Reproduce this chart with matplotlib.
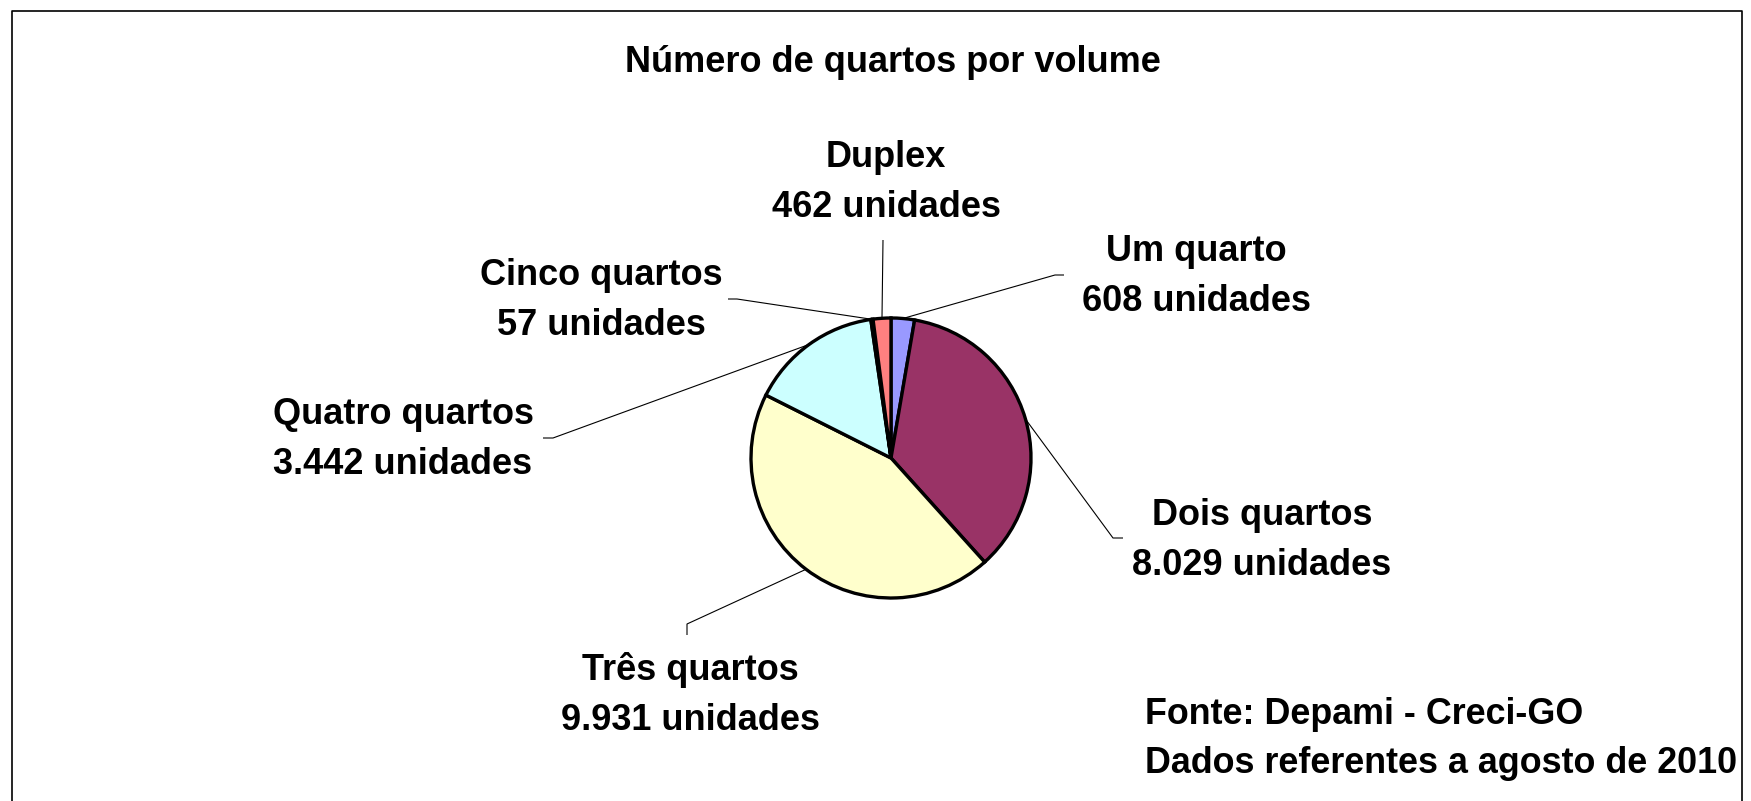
import numpy as np
import matplotlib
matplotlib.use('Agg')
from matplotlib import pyplot as plt

plt.rcParams['font.family'] = ['Liberation Sans', 'DejaVu Sans']
plt.rcParams['font.weight'] = 'bold'

# data
categories = ['Um quarto', 'Dois quartos', 'Três quartos', 'Quatro quartos', 'Cinco quartos', 'Duplex']
unidades = [608, 8029, 9931, 3442, 57, 462]
unidades_txt = ['608', '8.029', '9.931', '3.442', '57', '462']
colors = ['#9999FF', '#993366', '#FFFFCC', '#CCFFFF', '#660066', '#FF8080']

title = 'Número de quartos por volume'
fonte = ['Fonte: Depami - Creci-GO', 'Dados referentes a agosto de 2010']

# layout in pixels (y measured from top of image)
W, H = 1751, 801
cx, cy, r = 891, 458, 140
# label centre x, baseline of first line
label_pos = [(1196, 261), (1262, 525), (690, 680), (403, 424), (601, 285), (886, 167)]
line_gap = 50
# leader lines: elbow point, tail end point
leader = [((1055, 275), (1064, 275)),
          ((1113, 538), (1123, 538)),
          ((687, 624), (687, 635)),
          ((553, 438), (543, 438)),
          ((737, 299), (728, 299)),
          ((883, 240), (883, 240))]

fig = plt.figure(figsize=(W / 100, H / 100), dpi=100)
ax = fig.add_axes([0, 0, 1, 1])

wedges, _ = ax.pie(unidades, colors=colors, startangle=90, counterclock=False,
                   center=(cx, H - cy), radius=r,
                   wedgeprops=dict(edgecolor='black', linewidth=2.4))
ax.set_xlim(0, W)
ax.set_ylim(0, H)
ax.set_aspect('auto')
ax.axis('off')

fs = 26
for i, w in enumerate(wedges):
    ang = np.deg2rad((w.theta1 + w.theta2) / 2)
    px = cx + r * np.cos(ang)
    py = (H - cy) + r * np.sin(ang)
    (ex, ey), (tx, ty) = leader[i]
    ax.plot([px, ex, tx], [py, H - ey, H - ty], color='black', lw=0.8,
            solid_capstyle='butt', zorder=0.5)
    x, y = label_pos[i]
    ax.text(x, H - y, categories[i], ha='center', va='baseline', fontsize=fs,
            fontweight='bold')
    ax.text(x, H - y - line_gap, unidades_txt[i] + ' unidades', ha='center',
            va='baseline', fontsize=fs, fontweight='bold')

ax.text(893, H - 72, title, ha='center', va='baseline', fontsize=fs, fontweight='bold')
ax.text(1145, H - 724, fonte[0], ha='left', va='baseline', fontsize=25.8, fontweight='bold')
ax.text(1145, H - 773, fonte[1], ha='left', va='baseline', fontsize=25.8, fontweight='bold')

# frame (bottom edge falls outside the picture)
ax.plot([12, 12, 1742, 1742], [-20, H - 11, H - 11, -20], color='black', lw=1.2,
        clip_on=False)

fig.savefig('out.png', dpi=100, facecolor='white')
